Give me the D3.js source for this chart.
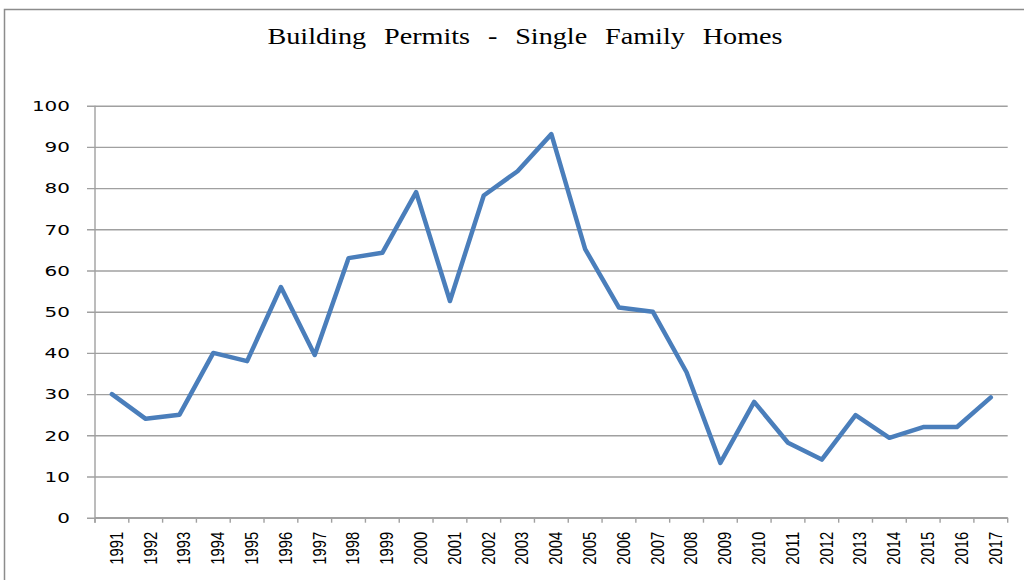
<!DOCTYPE html>
<html>
<head>
<meta charset="utf-8">
<script src="https://cdn.jsdelivr.net/npm/d3@7"></script>
<style>
  body { margin: 0; background: #fff; }
  svg { display: block; }
</style>
</head>
<body>
<div id="container"></div>
<script>
/* CONSTANTS AND GLOBALS */
const width = 1024;
const height = 580;

/* DATA */
const years = ["1991","1992","1993","1994","1995","1996","1997","1998","1999","2000",
  "2001","2002","2003","2004","2005","2006","2007","2008","2009","2010",
  "2011","2012","2013","2014","2015","2016","2017"];
const permits = [30, 24, 25, 40, 38, 56, 39.5, 63, 64.3, 79,
  52.6, 78.2, 84.1, 93.1, 65.2, 51, 50, 35.3, 13.3, 28.1,
  18.2, 14.1, 24.9, 19.4, 22, 22, 29.2];
const yTicks = [0, 10, 20, 30, 40, 50, 60, 70, 80, 90, 100];
const title = "Building Permits - Single Family Homes";

const data = years.map((y, i) => ({ year: y, value: permits[i] }));

// + SCALES
const xScale = d3.scaleBand()
  .domain(years)
  .range([95, 1007.7]);

const yScale = d3.scaleLinear()
  .domain([0, 100])
  .range([517.7, 105.7]);

// CREATE SVG ELEMENT
const svg = d3.select("#container")
  .append("svg")
  .attr("width", width)
  .attr("height", height);

// outer chart border
svg.append("rect")
  .attr("x", 4.5).attr("y", 9.5)
  .attr("width", 1040).attr("height", 600)
  .attr("fill", "none")
  .attr("stroke", "#8c8c8c")
  .attr("stroke-width", 1.5);

// title (stretched horizontally like the original)
svg.append("text")
  .attr("transform", `translate(${525}, ${43.5}) scale(1.2, 1)`)
  .attr("text-anchor", "middle")
  .attr("font-family", "'Liberation Serif', 'Times New Roman', serif")
  .attr("font-size", 23.5)
  .attr("word-spacing", 9)
  .attr("fill", "#000")
  .text(title);

// GRIDLINES + Y AXIS
const yAxis = d3.axisLeft(yScale)
  .tickValues(yTicks)
  .tickSize(-(1007.7 - 87))
  .tickPadding(0)
  .tickFormat("");

const yAxisGroup = svg.append("g")
  .attr("transform", `translate(${87}, 0)`)
  .call(yAxis);
yAxisGroup.select(".domain").remove();
yAxisGroup.selectAll(".tick line")
  .attr("stroke", "#a0a0a0")
  .attr("stroke-width", 1.4);

// y tick labels
svg.append("g").selectAll("text")
  .data(yTicks)
  .join("text")
  .attr("x", 70)
  .attr("y", d => yScale(d))
  .attr("dy", "0.36em")
  .attr("text-anchor", "end")
  .attr("font-family", "'DejaVu Sans', Verdana, sans-serif")
  .attr("font-size", 14.5)
  .attr("textLength", d => String(d).length * 12.7)
  .attr("lengthAdjust", "spacingAndGlyphs")
  .attr("fill", "#000")
  .text(d => d);

// vertical axis line
svg.append("line")
  .attr("x1", 95).attr("x2", 95)
  .attr("y1", yScale(100)).attr("y2", yScale(0) + 5)
  .attr("stroke", "#a0a0a0")
  .attr("stroke-width", 1.4);

// X AXIS
const xAxisGroup = svg.append("g")
  .attr("transform", `translate(0, ${yScale(0)})`);

xAxisGroup.append("line")
  .attr("x1", 95).attr("x2", 1007.7)
  .attr("stroke", "#a0a0a0")
  .attr("stroke-width", 1.4);

const tickXs = years.map(y => xScale(y)).concat([xScale.range()[1]]);
xAxisGroup.selectAll(".xtick")
  .data(tickXs)
  .join("line")
  .attr("class", "xtick")
  .attr("x1", d => d).attr("x2", d => d)
  .attr("y1", 0).attr("y2", 5)
  .attr("stroke", "#a0a0a0")
  .attr("stroke-width", 1.4);

xAxisGroup.selectAll(".xlabel")
  .data(years)
  .join("text")
  .attr("class", "xlabel")
  .attr("transform", d => `translate(${xScale(d) + xScale.bandwidth() / 2 + 4}, ${14}) rotate(-90)`)
  .attr("dy", "0.36em")
  .attr("text-anchor", "end")
  .attr("font-family", "'Liberation Sans', Arial, sans-serif")
  .attr("font-size", 19)
  .attr("textLength", 33)
  .attr("lengthAdjust", "spacingAndGlyphs")
  .attr("fill", "#000")
  .text(d => d);

// LINE GENERATOR FUNCTION
const lineGen = d3.line()
  .x(d => xScale(d.year) + xScale.bandwidth() / 2)
  .y(d => yScale(d.value));

// DRAW LINE
svg.append("path")
  .datum(data)
  .attr("fill", "none")
  .attr("stroke", "#4a7ebb")
  .attr("stroke-width", 4.5)
  .attr("stroke-linejoin", "round")
  .attr("stroke-linecap", "round")
  .attr("d", lineGen);
</script>
</body>
</html>
